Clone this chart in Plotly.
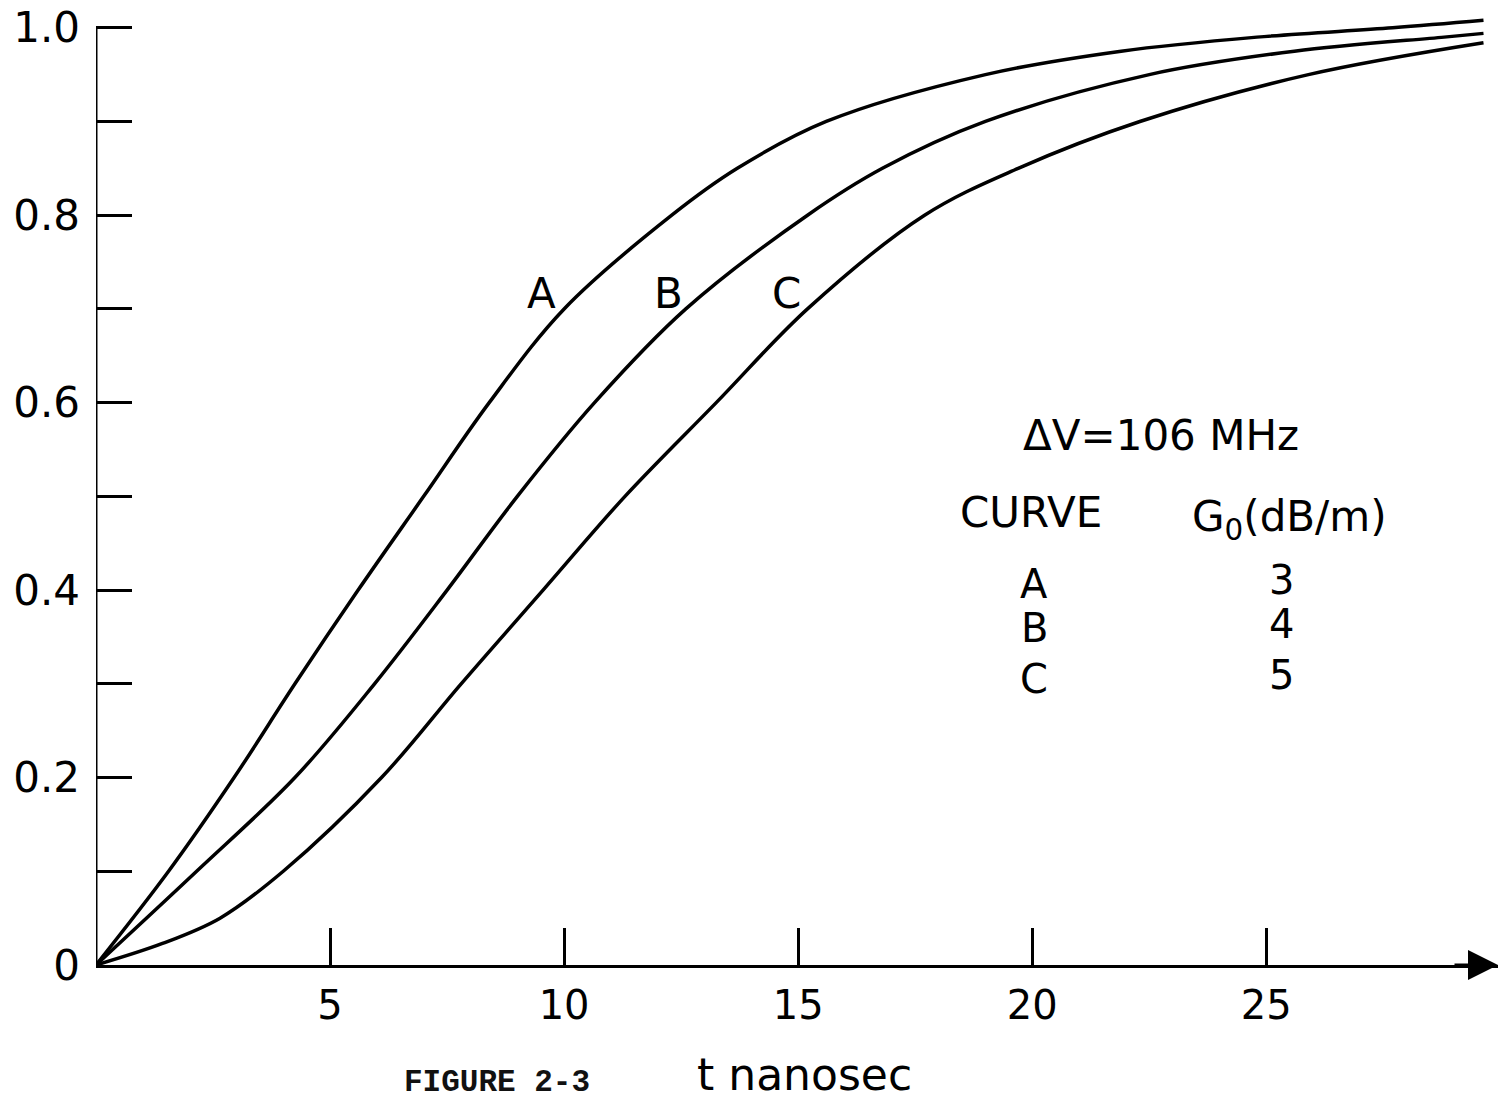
import plotly.graph_objects as go

# ---- data (t in ns, normalised output) ----
t_A = [0, 1.55, 2.95, 4.25, 5.6, 7.0, 8.4, 10.0, 12.3, 13.7, 15.6, 19.0, 21.9, 24.8, 27.7, 29.64]
v_A = [0, 0.10, 0.20, 0.30, 0.40, 0.50, 0.60, 0.70, 0.80, 0.85, 0.90, 0.95, 0.975, 0.99, 1.00, 1.008]

t_B = [0, 2.15, 4.25, 5.95, 7.5, 9.0, 10.65, 12.6, 15.2, 16.8, 19.0, 22.5, 25.6, 28.8, 29.64]
v_B = [0, 0.10, 0.20, 0.30, 0.40, 0.50, 0.60, 0.70, 0.80, 0.85, 0.90, 0.95, 0.975, 0.99, 0.994]

t_C = [0, 1.42, 2.65, 4.0, 6.1, 7.8, 9.55, 11.3, 13.25, 15.2, 17.7, 19.7, 22.3, 25.9, 29.64]
v_C = [0, 0.023, 0.05, 0.10, 0.20, 0.30, 0.40, 0.50, 0.60, 0.70, 0.80, 0.85, 0.90, 0.95, 0.984]

x_ticks = [5, 10, 15, 20, 25]
x_tick_labels = ["5", "10", "15", "20", "25"]
y_ticks = [0, 0.2, 0.4, 0.6, 0.8, 1.0]
y_tick_labels = ["0", "0.2", "0.4", "0.6", "0.8", "1.0"]
y_minor_ticks = [0.1, 0.3, 0.5, 0.7, 0.9]

curve_names = ["A", "B", "C"]
gain_values = ["3", "4", "5"]
bandwidth_text = "ΔV=106 MHz"
x_title = "t nanosec"
figure_caption = "FIGURE 2-3"

# ---- figure ----
FONT = "DejaVu Sans"
fig = go.Figure()
for t, v in [(t_A, v_A), (t_B, v_B), (t_C, v_C)]:
    fig.add_trace(go.Scatter(x=t, y=v, mode="lines",
                             line=dict(color="black", width=3.5, shape="spline", smoothing=1.0),
                             showlegend=False, hoverinfo="skip"))

fig.update_layout(
    width=1501, height=1103,
    margin=dict(l=96, r=3, t=6, b=138),
    paper_bgcolor="white", plot_bgcolor="white",
    font=dict(family=FONT, color="black"),
    xaxis=dict(range=[0, 29.95], showgrid=False, zeroline=False,
               showline=True, linecolor="black", linewidth=3,
               ticks="inside", ticklen=37, tickwidth=2.5, tickcolor="black",
               tickvals=x_ticks, ticktext=x_tick_labels,
               tickfont=dict(size=40, family=FONT), ticklabelstandoff=3),
    yaxis=dict(range=[0, 1.02], showgrid=False, zeroline=False, showline=False,
               ticks="inside", ticklen=36, tickwidth=2.5, tickcolor="black",
               tickvals=y_ticks, ticktext=y_tick_labels,
               tickfont=dict(size=42, family=FONT), ticklabelstandoff=15,
               minor=dict(tickvals=y_minor_ticks, ticks="inside", ticklen=36,
                          tickwidth=2.5, tickcolor="black")),
)

# y axis line from first to last tick
fig.add_shape(type="line", xref="x", yref="y", x0=0, x1=0, y0=y_ticks[0], y1=y_ticks[-1],
              line=dict(color="black", width=3))

# arrowhead on x axis
fig.add_annotation(xref="paper", yref="y", x=1.0, y=0, ax=-45, ay=0, text="",
                   showarrow=True, arrowhead=2, arrowsize=2.0, arrowwidth=3,
                   arrowcolor="black", standoff=0)

# curve labels
for name, xp in zip(curve_names, [9.51, 12.22, 14.74]):
    fig.add_annotation(x=xp, y=0.716, text=name, showarrow=False,
                       font=dict(size=42, family=FONT))

# legend table
fig.add_annotation(x=22.76, y=0.565, text=bandwidth_text, showarrow=False,
                   font=dict(size=42, family=FONT))
fig.add_annotation(x=19.98, y=0.483, text="CURVE", showarrow=False,
                   font=dict(size=42, family=FONT))
fig.add_annotation(x=25.49, y=0.475, text="G<sub>0</sub>(dB/m)", showarrow=False,
                   font=dict(size=42, family=FONT))
for name, g, yv in zip(curve_names, gain_values, [0.407, 0.360, 0.305]):
    fig.add_annotation(x=20.04, y=yv, text=name, showarrow=False,
                       font=dict(size=40, family=FONT))
    fig.add_annotation(x=25.32, y=yv + 0.004, text=g, showarrow=False,
                       font=dict(size=40, family=FONT))

# axis title and caption
fig.add_annotation(xref="paper", yref="paper", x=0.5057, y=-0.1147,
                   xanchor="center", yanchor="middle", text=x_title,
                   showarrow=False, font=dict(size=44, family=FONT))
fig.add_annotation(xref="paper", yref="paper", x=0.286, y=-0.123,
                   xanchor="center", yanchor="middle", text="<b>" + figure_caption + "</b>",
                   showarrow=False, font=dict(size=31, family="Liberation Mono", color="#111"))

fig.write_html("out.html")
